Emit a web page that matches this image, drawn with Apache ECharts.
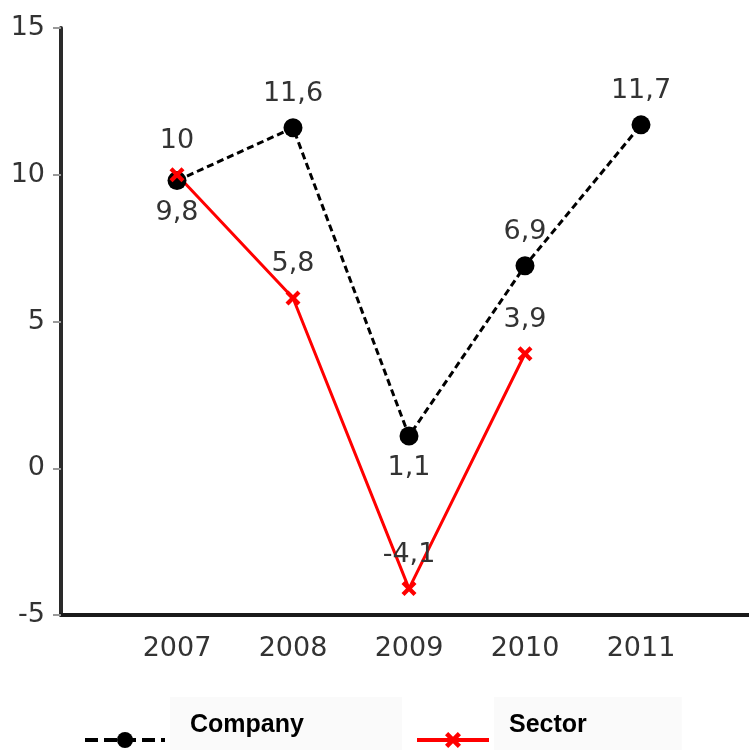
<!DOCTYPE html>
<html>
<head>
<meta charset="utf-8">
<script src="https://cdn.jsdelivr.net/npm/echarts@6/dist/echarts.min.js"></script>
<style>html,body{margin:0;padding:0;background:#fff;overflow:hidden;}#c{width:749px;height:750px;}</style>
</head>
<body>
<div id="c"></div>
<script>
var years = ['2007', '2008', '2009', '2010', '2011'];
var companyValues = [9.8, 11.6, 1.1, 6.9, 11.7];
var sectorValues = [10, 5.8, -4.1, 3.9, null];
var yTicks = { min: -5, max: 15, interval: 5 };
var companyLabelPos = ['bottom', 'top', 'bottom', 'top', 'top'];

function fmt(v) { return String(v).replace('.', ','); }

var cats = [''].concat(years, ['']);
var companyData = ['-'].concat(companyValues.map(function (v, i) {
  return { value: v, label: { position: companyLabelPos[i], distance: companyLabelPos[i] === 'top' ? 11 : 9 } };
}), ['-']);
var sectorData = ['-'].concat(sectorValues.map(function (v) { return v == null ? '-' : v; }), ['-']);

var xMark = 'path://M0,2 L2,0 L5,3 L8,0 L10,2 L7,5 L10,8 L8,10 L5,7 L2,10 L0,8 L3,5 Z';
var labelFont = { fontFamily: 'DejaVu Sans', fontSize: 27, color: '#333' };
var legendText = { fontFamily: 'Arial, Liberation Sans', fontWeight: 'bold', fontSize: 25, color: '#000',
  lineHeight: 29, backgroundColor: '#fafafa' };

var chart = echarts.init(document.getElementById('c'), null, { renderer: 'canvas' });
chart.setOption({
  animation: false,
  backgroundColor: '#fff',
  grid: { left: 61, top: 28, bottom: 135, right: -8, containLabel: false, outerBoundsMode: 'none' },
  xAxis: {
    type: 'category',
    data: cats,
    boundaryGap: false,
    axisLine: { onZero: false, lineStyle: { color: '#1a1a1a', width: 4 } },
    axisTick: { show: false },
    axisLabel: Object.assign({ interval: 0, margin: 20 }, labelFont),
    splitLine: { show: false }
  },
  yAxis: {
    type: 'value',
    min: yTicks.min, max: yTicks.max, interval: yTicks.interval,
    axisLine: { show: true, lineStyle: { color: '#2a2a2a', width: 4 } },
    axisTick: { show: true, length: 8, lineStyle: { color: '#999', width: 2 } },
    axisLabel: Object.assign({ margin: 16 }, labelFont),
    splitLine: { show: false }
  },
  legend: [
    {
      data: ['Company'], left: 83, top: 697, itemWidth: 80, itemHeight: 20,
      selectedMode: false, padding: 0,
      lineStyle: { width: 4, type: [13, 6] },
      formatter: function (n) { return n + '\n '; },
      textStyle: Object.assign({ padding: [14, 98, 14, 20] }, legendText)
    },
    {
      data: ['Sector'], left: 415, top: 697, itemWidth: 72, itemHeight: 20,
      selectedMode: false, padding: 0,
      lineStyle: { width: 4 },
      formatter: function (n) { return n + '\n '; },
      textStyle: Object.assign({ padding: [14, 95, 14, 15] }, legendText)
    }
  ],
  series: [
    {
      name: 'Company', type: 'line', data: companyData,
      symbol: 'circle', symbolSize: 19,
      itemStyle: { color: '#000' },
      lineStyle: { color: '#000', width: 3, type: [7, 4] },
      label: Object.assign({ show: true, formatter: function (p) { return fmt(p.value); } }, labelFont)
    },
    {
      name: 'Sector', type: 'line', data: sectorData,
      symbol: xMark, symbolSize: 15,
      itemStyle: { color: '#ff0000' },
      lineStyle: { color: '#ff0000', width: 3 },
      label: Object.assign({ show: true, position: 'top', distance: 13, formatter: function (p) { return fmt(p.value); } }, labelFont)
    }
  ]
});
</script>
</body>
</html>
